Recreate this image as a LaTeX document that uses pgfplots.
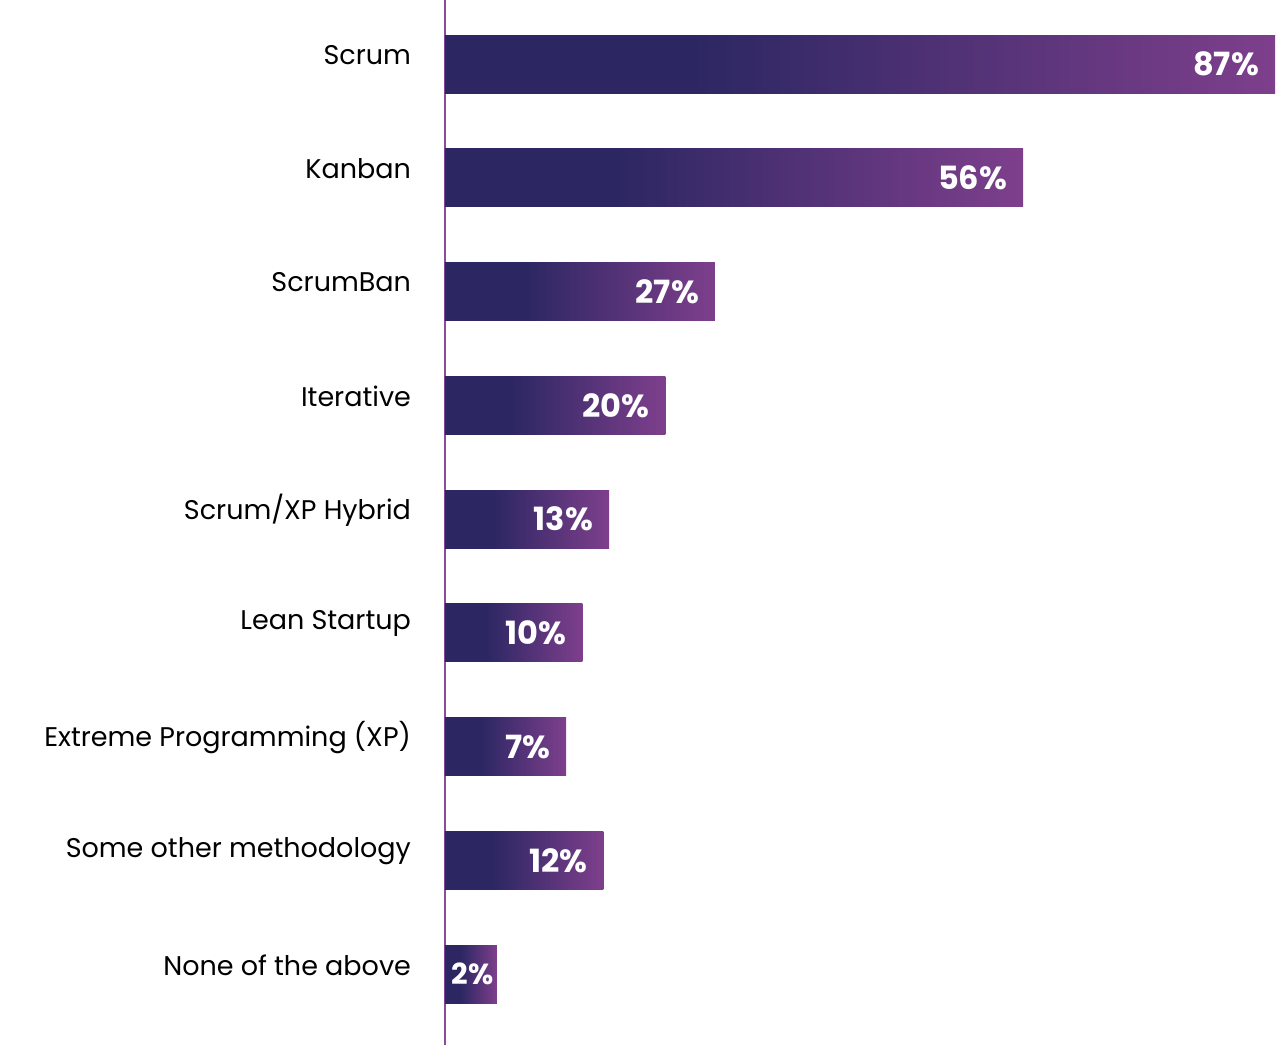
\documentclass[border=0pt]{standalone}
\usepackage{pgfplots}
\pgfplotsset{compat=1.18}
\usepackage{fontspec}
\setmainfont{Poppins}
\definecolor{bardark}{HTML}{2C2763}
\definecolor{barpurple}{HTML}{7E3F8C}
\definecolor{axispurple}{HTML}{8A4C9C}
\pgfdeclarehorizontalshading{barshade}{100bp}{color(0bp)=(bardark); color(25bp)=(bardark); color(40bp)=(bardark); color(75bp)=(barpurple); color(100bp)=(barpurple)}
\pgfplotsset{gbar/.style={draw=none, shading=barshade, shading angle=0}}
\begin{document}
\begin{tikzpicture}
\begin{axis}[
  name=ax,
  scale only axis,
  width=415pt, height=522.5pt,
  xmin=0, xmax=87,
  ymin=-0.563, ymax=8.624,
  y dir=reverse,
  axis x line=none,
  axis y line*=left,
  axis line style={draw=axispurple, line width=1pt, -},
  ytick={0,...,8},
  yticklabels={Scrum,Kanban,ScrumBan,Iterative,Scrum/XP Hybrid,Lean Startup,Extreme Programming (XP),Some other methodology,None of the above},
  major tick length=0pt,
  yticklabel style={font=\fontsize{13.5}{14}\selectfont, text=black, yshift=4.5pt, xshift=-13.5pt},
  xbar, bar width=29pt, bar shift=0pt,
  clip=false,
  nodes near coords={\pgfplotspointmeta\%},
  point meta=explicit symbolic,
  nodes near coords style={anchor=east, xshift=-4.5pt, text=white, font=\fontsize{16}{16}\selectfont\bfseries},
]
% bar length as drawn in the reference, [printed value]
\addplot[gbar] coordinates {(87.0,0) [87]};
\addplot[gbar] coordinates {(60.6,1) [56]};
\addplot[gbar] coordinates {(28.3,2) [27]};
\addplot[gbar] coordinates {(23.1,3) [20]};
\addplot[gbar] coordinates {(17.2,4) [13]};
\addplot[gbar] coordinates {(14.4,5) [10]};
\addplot[gbar] coordinates {(12.7,6) [7]};
\addplot[gbar] coordinates {(16.6,7) [12]};
\addplot[gbar, nodes near coords style={xshift=4pt, inner xsep=1pt, font=\fontsize{14.5}{15}\selectfont\bfseries}] coordinates {(5.45,8) [2]};
\end{axis}
\pgfresetboundingbox
\path ([xshift=-222.5pt,yshift=-2.5pt]ax.south west) rectangle ([xshift=6.5pt]ax.north east);
\end{tikzpicture}
\end{document}
